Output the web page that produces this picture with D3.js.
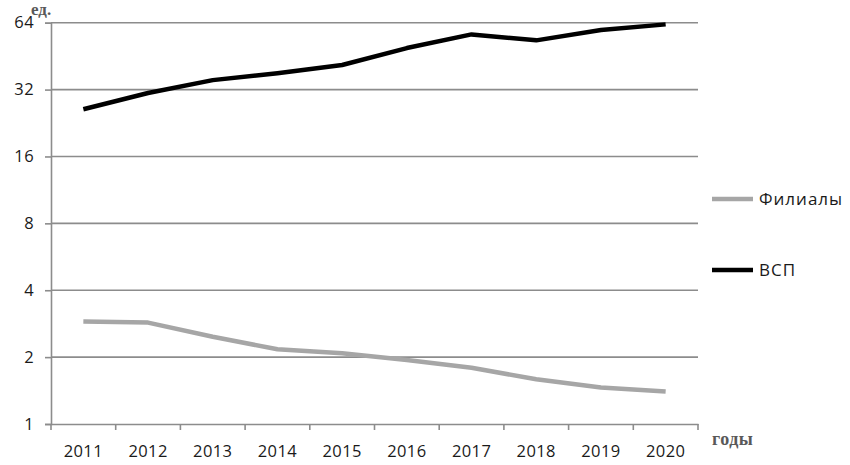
<!DOCTYPE html>
<html>
<head>
<meta charset="utf-8">
<script src="https://cdnjs.cloudflare.com/ajax/libs/d3/7.8.5/d3.min.js"></script>
<style>
  body { margin: 0; background: #fff; }
  svg { display: block; }
</style>
</head>
<body>
<div class="box"></div>
<script>
// Data
const years = ["2011", "2012", "2013", "2014", "2015", "2016", "2017", "2018", "2019", "2020"];
const vsp = [26.1, 30.9, 35.3, 37.9, 41.3, 49.2, 56.7, 53.3, 59.3, 62.9];
const filialy = [2.89, 2.86, 2.47, 2.17, 2.08, 1.94, 1.79, 1.59, 1.46, 1.40];
const yTicks = [1, 2, 4, 8, 16, 32, 64];

// Size of the svg "box"
const w = 850;
const h = 465;
const padLeft = 51, padRight = 698, padTop = 22.7, padBottom = 424;

const xScale = d3.scaleBand()
                .domain(years)
                .range([padLeft, padRight]);

const yScale = d3.scaleLog()
                .base(2)
                .domain([1, 64])
                .range([padBottom, padTop]);

const svg = d3.select(".box")
            .append("svg")
            .attr("width", w)
            .attr("height", h);

// Gridlines
svg.append("g")
    .selectAll("line")
    .data(yTicks.slice(1))
    .enter()
    .append("line")
    .attr("x1", padLeft)
    .attr("x2", padRight)
    .attr("y1", d => yScale(d))
    .attr("y2", d => yScale(d))
    .style("stroke", "#8c8c8c")
    .style("stroke-width", 1.6);

// Axes
const yAxis = d3.axisLeft(yScale).tickValues(yTicks).tickFormat(d3.format("d")).tickSize(6).tickPadding(11);
const xAxis = d3.axisBottom(xScale).tickSize(0).tickPadding(21);

const gy = svg.append("g")
    .attr("transform", "translate(" + padLeft + ",0)")
    .call(yAxis);

const gx = svg.append("g")
    .attr("transform", "translate(0," + padBottom + ")")
    .call(xAxis);

[gx, gy].forEach(g => {
    g.select(".domain").style("stroke", "#8c8c8c").style("stroke-width", 1.6);
    g.selectAll(".tick line").style("stroke", "#8c8c8c").style("stroke-width", 1.6);
    g.selectAll("text")
        .style("font-family", "Open Sans")
        .style("font-size", "16.5px")
        .style("letter-spacing", "0.4px")
        .style("fill", "#1a1a1a");
});

// x tick marks at the band edges
svg.append("g")
    .selectAll("line")
    .data(years.concat(["end"]))
    .enter()
    .append("line")
    .attr("x1", (d, i) => i < years.length ? xScale(d) : xScale.range()[1])
    .attr("x2", (d, i) => i < years.length ? xScale(d) : xScale.range()[1])
    .attr("y1", padBottom)
    .attr("y2", padBottom + 6)
    .style("stroke", "#8c8c8c")
    .style("stroke-width", 1.6);

// Lines
const line = d3.line()
    .x((d, i) => xScale(years[i]) + xScale.bandwidth() / 2)
    .y(d => yScale(d));

svg.append("path")
    .datum(filialy)
    .attr("d", line)
    .style("fill", "none")
    .style("stroke", "#a6a6a6")
    .style("stroke-width", 4.5)
    .style("stroke-linejoin", "round");

svg.append("path")
    .datum(vsp)
    .attr("d", line)
    .style("fill", "none")
    .style("stroke", "#000")
    .style("stroke-width", 4.5)
    .style("stroke-linejoin", "round");

// Legend
const legend = [["Филиалы", "#a6a6a6", 199], ["ВСП", "#000", 270]];
legend.forEach(([name, color, y]) => {
    svg.append("line")
        .attr("x1", 712).attr("x2", 753)
        .attr("y1", y).attr("y2", y)
        .style("stroke", color)
        .style("stroke-width", 4.5);
    svg.append("text")
        .attr("x", 759)
        .attr("y", y + 6)
        .text(name)
        .style("font-family", "Open Sans")
        .style("font-size", "17px")
        .style("letter-spacing", "1px")
        .style("fill", "#1a1a1a");
});

// Axis names
svg.append("text")
    .attr("x", 31)
    .attr("y", 15)
    .text("ед.")
    .style("font-family", "Liberation Serif")
    .style("font-weight", "bold")
    .style("font-size", "17px")
    .style("fill", "#595959");

svg.append("text")
    .attr("x", 712)
    .attr("y", 445)
    .text("годы")
    .style("font-family", "Liberation Serif")
    .style("font-weight", "bold")
    .style("font-size", "18px")
    .style("letter-spacing", "0.5px")
    .style("fill", "#595959");
</script>
</body>
</html>
